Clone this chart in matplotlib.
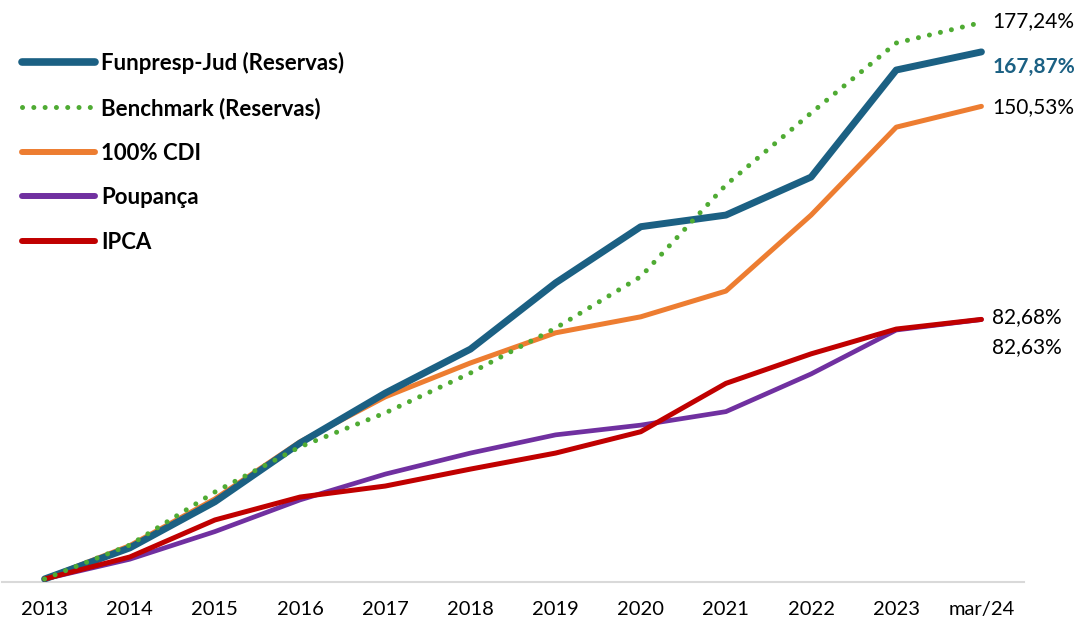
import matplotlib.pyplot as plt
import numpy as np

plt.rcParams['font.family'] = ['Lato', 'DejaVu Sans']

years = ["2013", "2014", "2015", "2016", "2017", "2018", "2019", "2020",
         "2021", "2022", "2023", "mar/24"]
funpresp = [0, 9.9, 24.6, 43.3, 59.2, 73.2, 94.3, 112.2, 115.9, 128.0, 162.1, 167.87]
benchmark = [0, 10.8, 27.7, 42.1, 52.9, 65.6, 79.9, 96.3, 125.5, 148.4, 170.7, 177.24]
cdi = [0, 10.6, 25.5, 43.7, 58.0, 68.8, 78.4, 83.5, 91.7, 115.9, 143.9, 150.53]
poupanca = [0, 6.3, 15.1, 25.2, 33.4, 40.1, 45.9, 49.0, 53.3, 65.3, 79.3, 82.63]
ipca = [0, 7.0, 18.8, 26.1, 29.6, 35.0, 40.1, 46.9, 62.3, 71.7, 79.6, 82.68]

end_labels = ["177,24%", "167,87%", "150,53%", "82,68%", "82,63%"]

c_blue = "#1b6083"
c_green = "#4fab33"
c_orange = "#ed7d31"
c_purple = "#7030a0"
c_red = "#c00000"

fig = plt.figure(figsize=(10.77, 6.23), dpi=100)
ax = fig.add_axes([2/1077, 41/623, 1022/1077, 582/623])
x = np.arange(len(years))

ax.plot(x, cdi, color=c_orange, lw=3.6, solid_capstyle="round", label="100% CDI", zorder=3)
ax.plot(x, funpresp, color=c_blue, lw=5.0, solid_capstyle="round",
        label="Funpresp-Jud (Reservas)", zorder=4)
ax.plot(x, benchmark, color=c_green, lw=3.6, ls=(0, (0.01, 2.25)),
        dash_capstyle="round", label="Benchmark (Reservas)", zorder=5)
ax.plot(x, poupanca, color=c_purple, lw=3.4, solid_capstyle="round", label="Poupança", zorder=3)
ax.plot(x, ipca, color=c_red, lw=3.6, solid_capstyle="round", label="IPCA", zorder=4)

ax.set_xlim(-0.5, len(years) - 0.5)
ax.set_ylim(-0.96, 184.4)
ax.set_xticks(x)
ax.set_xticklabels(years, fontsize=14.5)
ax.tick_params(axis="x", length=0, pad=14)
ax.set_yticks([])
for s in ["top", "left", "right"]:
    ax.spines[s].set_visible(False)
ax.spines["bottom"].set_color("#d9d9d9")
ax.spines["bottom"].set_linewidth(1.5)

xe = x[-1] + 0.13
ax.text(xe, 177.8, end_labels[0], fontsize=15, va="center", ha="left")
ax.text(xe, 163.2, end_labels[1], fontsize=15, va="center", ha="left",
        color=c_blue, fontweight="bold")
ax.text(xe, 150.4, end_labels[2], fontsize=15, va="center", ha="left")
ax.text(xe, 83.5, end_labels[3], fontsize=15, va="center", ha="left")
ax.text(xe, 73.8, end_labels[4], fontsize=15, va="center", ha="left")

h, l = ax.get_legend_handles_labels()
order = [1, 2, 0, 3, 4]
leg = ax.legend([h[i] for i in order], [l[i] for i in order],
                loc="upper left", bbox_to_anchor=(0.0196, 0.911), frameon=False,
                prop={"weight": "bold", "size": 16}, handlelength=3.3,
                handletextpad=0.25, labelspacing=1.06, borderaxespad=0, borderpad=0)
for ln in leg.get_lines():
    if ln.get_color() == c_blue:
        ln.set_linewidth(5.5)
    elif ln.get_color() != c_green:
        ln.set_linewidth(4.3)

fig.savefig("out.png", dpi=100)
